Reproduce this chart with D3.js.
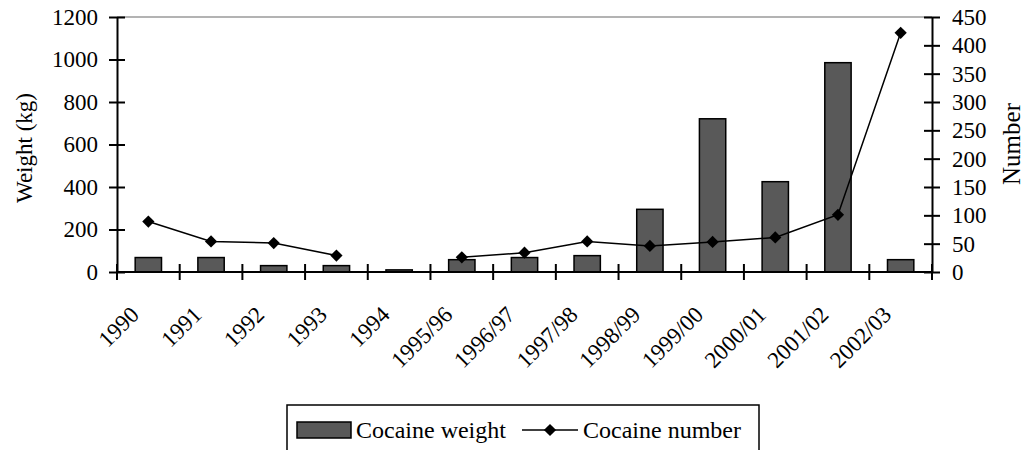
<!DOCTYPE html>
<html>
<head>
<meta charset="utf-8">
<script src="https://cdn.jsdelivr.net/npm/d3@7"></script>
<style>
  body { margin: 0; background: #fff; }
  svg text { font-family: "Liberation Serif", "Times New Roman", serif; fill: #000; }
</style>
</head>
<body>
<svg id="chart" width="1025" height="450"></svg>
<script>
// categories and values
var years = ['1990', '1991', '1992', '1993', '1994', '1995/96', '1996/97', '1997/98',
  '1998/99', '1999/00', '2000/01', '2001/02', '2002/03']
var weightKg = [68, 68, 30, 30, 10, 58, 68, 77, 295, 721, 425, 985, 58]
var seizureCount = [89, 54, 51, 29, null, 26, 34, 54, 46, 53, 61, 101, 422]
var leftTicks = [0, 200, 400, 600, 800, 1000, 1200]
var rightTicks = [0, 50, 100, 150, 200, 250, 300, 350, 400, 450]

var svg = d3.select('#chart')
var plotL = 117, plotR = 932, plotT = 17, plotB = 272

var x = d3.scaleBand().domain(years).range([plotL, plotR]).padding(0)
var yL = d3.scaleLinear().domain([0, 1200]).range([plotB, plotT])
var yR = d3.scaleLinear().domain([0, 450]).range([plotB, plotT])

// top border
svg.append('line')
  .attr('x1', plotL).attr('x2', plotR)
  .attr('y1', plotT).attr('y2', plotT)
  .attr('stroke', '#9a9a9a').attr('stroke-width', 1.5)

// bars
svg.append('g').selectAll('rect')
  .data(years)
  .join('rect')
  .attr('x', function(d) { return x(d) + x.bandwidth() * 0.29 })
  .attr('width', x.bandwidth() * 0.42)
  .attr('y', function(d, i) { return yL(weightKg[i]) })
  .attr('height', function(d, i) { return plotB - yL(weightKg[i]) })
  .attr('fill', '#595959')
  .attr('stroke', '#000')
  .attr('stroke-width', 1.5)

// left axis
var axL = svg.append('g')
  .attr('transform', 'translate(' + plotL + ',0)')
  .call(d3.axisLeft(yL).tickValues(leftTicks).tickFormat(d3.format('d'))
    .tickSize(8).tickSizeOuter(0).tickPadding(11))
axL.selectAll('.tick line').attr('x1', 8).attr('stroke-width', 2)
axL.select('.domain').attr('stroke-width', 2)
axL.selectAll('text').style('font-size', '23px')

// right axis
var axR = svg.append('g')
  .attr('transform', 'translate(' + plotR + ',0)')
  .call(d3.axisRight(yR).tickValues(rightTicks).tickFormat(d3.format('d'))
    .tickSize(8).tickSizeOuter(0).tickPadding(12))
axR.selectAll('.tick line').attr('x1', -8).attr('stroke-width', 2)
axR.select('.domain').attr('stroke-width', 2)
axR.selectAll('text').style('font-size', '23px')

// x axis line with cross ticks at category boundaries
svg.append('line')
  .attr('x1', plotL).attr('x2', plotR)
  .attr('y1', plotB).attr('y2', plotB)
  .attr('stroke', '#000').attr('stroke-width', 2)
svg.append('g').selectAll('line')
  .data(years.concat(['end']))
  .join('line')
  .attr('x1', function(d) { return d === 'end' ? plotR : x(d) })
  .attr('x2', function(d) { return d === 'end' ? plotR : x(d) })
  .attr('y1', plotB - 8).attr('y2', plotB + 8)
  .attr('stroke', '#000').attr('stroke-width', 2)

// x labels, rotated
svg.append('g').selectAll('text')
  .data(years)
  .join('text')
  .attr('transform', function(d) {
    return 'translate(' + (x(d) + x.bandwidth() / 2 - 8) + ',' + (plotB + 44) + ') rotate(-45)'
  })
  .attr('text-anchor', 'end')
  .style('font-size', '23px')
  .text(function(d) { return d })

// line series on the right scale
var pts = years.map(function(d, i) { return { c: d, v: seizureCount[i] } })
var line = d3.line()
  .defined(function(d) { return d.v != null })
  .x(function(d) { return x(d.c) + x.bandwidth() / 2 })
  .y(function(d) { return yR(d.v) })
svg.append('path')
  .datum(pts)
  .attr('d', line)
  .attr('fill', 'none')
  .attr('stroke', '#000')
  .attr('stroke-width', 1.5)

var diamond = d3.symbol().type(d3.symbolSquare).size(75)
svg.append('g').selectAll('path')
  .data(pts.filter(function(d) { return d.v != null }))
  .join('path')
  .attr('d', diamond)
  .attr('transform', function(d) {
    return 'translate(' + (x(d.c) + x.bandwidth() / 2) + ',' + yR(d.v) + ') rotate(45)'
  })
  .attr('fill', '#000')

// axis titles
svg.append('text')
  .attr('transform', 'translate(32,148) rotate(-90)')
  .attr('text-anchor', 'middle')
  .style('font-size', '23px')
  .text('Weight (kg)')
svg.append('text')
  .attr('transform', 'translate(1020,144) rotate(-90)')
  .attr('text-anchor', 'middle')
  .style('font-size', '25px')
  .text('Number')

// legend
var lg = svg.append('g')
lg.append('rect')
  .attr('x', 287).attr('y', 405).attr('width', 472).attr('height', 60)
  .attr('fill', '#fff').attr('stroke', '#000').attr('stroke-width', 1.5)
lg.append('rect')
  .attr('x', 297).attr('y', 422).attr('width', 54).attr('height', 16)
  .attr('fill', '#595959').attr('stroke', '#000').attr('stroke-width', 1.5)
lg.append('text')
  .attr('x', 356).attr('y', 438)
  .style('font-size', '24px')
  .text('Cocaine weight')
lg.append('line')
  .attr('x1', 522).attr('x2', 578).attr('y1', 430).attr('y2', 430)
  .attr('stroke', '#000').attr('stroke-width', 1.5)
lg.append('path')
  .attr('d', diamond)
  .attr('transform', 'translate(550,430) rotate(45)')
  .attr('fill', '#000')
lg.append('text')
  .attr('x', 583).attr('y', 438)
  .style('font-size', '24px')
  .text('Cocaine number')
</script>
</body>
</html>
